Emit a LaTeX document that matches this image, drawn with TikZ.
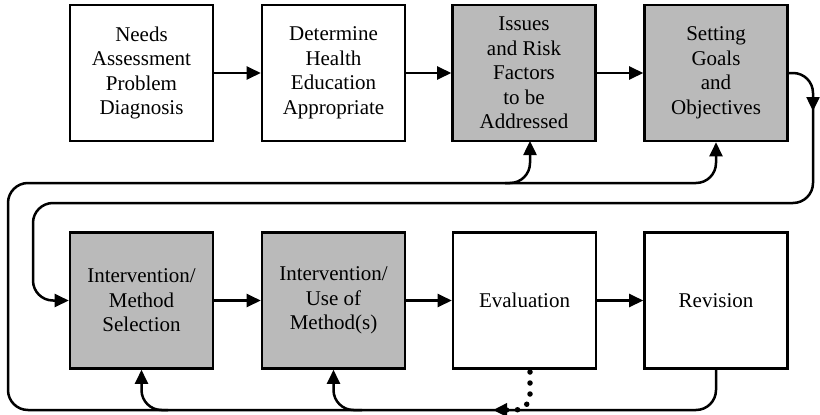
\documentclass[tikz,border=0pt]{standalone}
\usepackage{fontspec}
\setmainfont{Liberation Serif}
\usetikzlibrary{arrows.meta,calc}
\begin{document}
\begin{tikzpicture}[x=1pt,y=-1pt,
  stepbox/.style={draw=black, line width=2.6pt, minimum width=143pt, minimum height=136pt,
    inner sep=0pt, align=center, font=\fontsize{21}{24.5}\selectfont},
  shadedbox/.style={stepbox, fill=black!27},
  tip/.style={-{Triangle[length=14pt,width=13pt]}},
  flow/.style={line width=2.5pt, tip},
  loopline/.style={line width=2.5pt, rounded corners=20pt},
  dotline/.style={line width=5.5pt, line cap=round, dash pattern=on 0pt off 11pt, rounded corners=15pt}
]
\useasboundingbox (0,0) rectangle (820,415);

% top row
\node[stepbox]   (na) at (141.5,73) {Needs\\Assessment\\Problem\\Diagnosis};
\node[stepbox]   (dh) at (333.5,73) {Determine\\Health\\Education\\Appropriate};
\node[shadedbox] (ir) at (524,73)   {Issues\\and Risk\\Factors\\to be\\Addressed};
\node[shadedbox] (go) at (716,73)   {Setting\\Goals\\and\\Objectives};

% bottom row
\node[shadedbox] (ms) at (141.5,300.5) {Intervention/\\Method\\Selection};
\node[shadedbox] (um) at (333.5,300.5) {Intervention/\\Use of\\Method(s)};
\node[stepbox]   (ev) at (524.5,300.5) {Evaluation};
\node[stepbox]   (rv) at (716,300.5)   {Revision};

% straight flow arrows
\draw[flow] (na) -- (dh);
\draw[flow] (dh) -- (ir);
\draw[flow] (ir) -- (go);
\draw[flow] (ms) -- (um);
\draw[flow] (um) -- (ev);
\draw[flow] (ev) -- (rv);

% inner loop: goals down to the second row
\coordinate (rr) at (813,203);
\coordinate (rl) at (33,203);
\coordinate (rt) at (813,73);
\draw[loopline, tip] (go.east) -| (rr) -- (rl) |- (ms.west);
\draw[flow] ($(rt)+(0,22)$) -- ($(rt)+(0,38)$);

% outer feedback loop from revision
\coordinate (obl) at (8,410);
\coordinate (otl) at (8,183);
\draw[loopline, tip] (rv.south) |- (obl) -- (otl) -| (go.south);
\coordinate (bi) at (505,183);
\coordinate (ei) at (530,141);
\draw[loopline, tip] (bi) -| (ei);
\coordinate (bm) at (168,410);
\coordinate (bu) at (362,410);
\draw[loopline, tip] (bm) -| (ms.south);
\draw[loopline, tip] (bu) -| (um.south);

% dotted link from evaluation
\coordinate (ds) at (530,372);
\coordinate (de) at (493,410);
\draw[dotline, -{Triangle[length=14pt,width=13pt]}] (ds) |- (de);
\end{tikzpicture}
\end{document}
